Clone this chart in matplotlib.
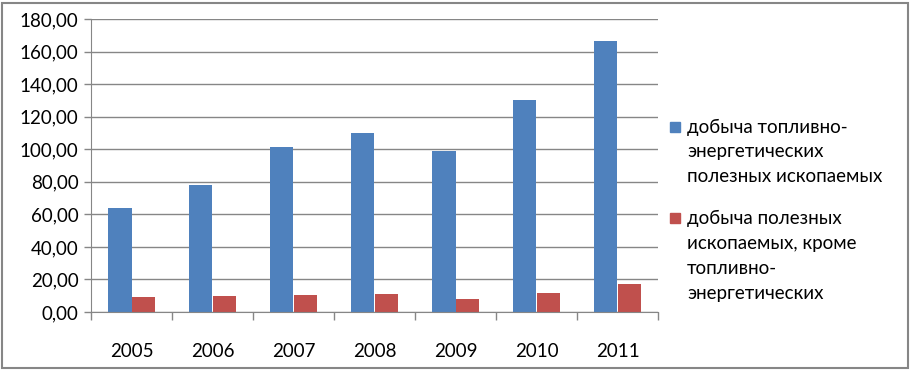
import matplotlib.pyplot as plt
import matplotlib.patches as mpatches
import numpy as np

years = ['2005', '2006', '2007', '2008', '2009', '2010', '2011']
fuel = [63.9, 78.0, 101.4, 110.0, 98.9, 130.2, 166.5]
non_fuel = [9.4, 10.0, 10.4, 11.1, 8.0, 11.7, 17.2]
labels = ['добыча топливно-\nэнергетических\nполезных ископаемых',
          'добыча полезных\nископаемых, кроме\nтопливно-\nэнергетических']

BLUE = '#4f81bd'
RED = '#c0504d'
GRAY = '#868686'

plt.rcParams['font.family'] = ['Lato', 'DejaVu Sans']

W, H = 912, 370
fig = plt.figure(figsize=(W / 100, H / 100), dpi=100)
ax = fig.add_axes([91 / W, 1 - 312 / H, (658 - 91) / W, (312 - 19) / H])

x = np.arange(len(years))
w = 0.284
ax.bar(x - w / 2, fuel, w, color=BLUE)
ax.bar(x + w / 2, non_fuel, w, color=RED)

ax.set_xlim(-0.5, len(years) - 0.5)
ax.set_ylim(0, 180)
ax.set_yticks(np.arange(0, 181, 20))
ax.set_yticklabels([f'{v:.2f}'.replace('.', ',') for v in np.arange(0, 181, 20)])
ax.yaxis.grid(True, color=GRAY, linewidth=1)
ax.set_axisbelow(True)

ax.set_xticks(x)
ax.set_xticklabels(years)
ax.set_xticks(np.arange(-0.5, len(years)), minor=True)
ax.tick_params(axis='x', which='major', length=0, pad=22, labelsize=13.5, colors='black')
ax.tick_params(axis='x', which='minor', length=6, color=GRAY, width=1)
ax.tick_params(axis='y', length=5, color=GRAY, width=1, labelsize=13.5, pad=4)

for side in ['top', 'right']:
    ax.spines[side].set_visible(False)
for side in ['left', 'bottom']:
    ax.spines[side].set_color(GRAY)

# legend drawn by hand: marker aligned with first line of each label
line_h = 25
starts = [127, 218]
for color, label, y0 in zip([BLUE, RED], labels, starts):
    fig.patches.append(mpatches.Rectangle((670 / W, 1 - (y0 + 5) / H), 10 / W, 10 / H,
                                          transform=fig.transFigure, color=color))
    for i, line in enumerate(label.split('\n')):
        fig.text(687 / W, 1 - (y0 + i * line_h) / H, line, fontsize=13.5,
                 va='center', ha='left')

border = mpatches.Rectangle((2 / W, 2 / H), 906 / W, 365 / H, transform=fig.transFigure,
                            fill=False, edgecolor=GRAY, linewidth=1.5)
fig.patches.append(border)

fig.savefig('out.png', dpi=100)
